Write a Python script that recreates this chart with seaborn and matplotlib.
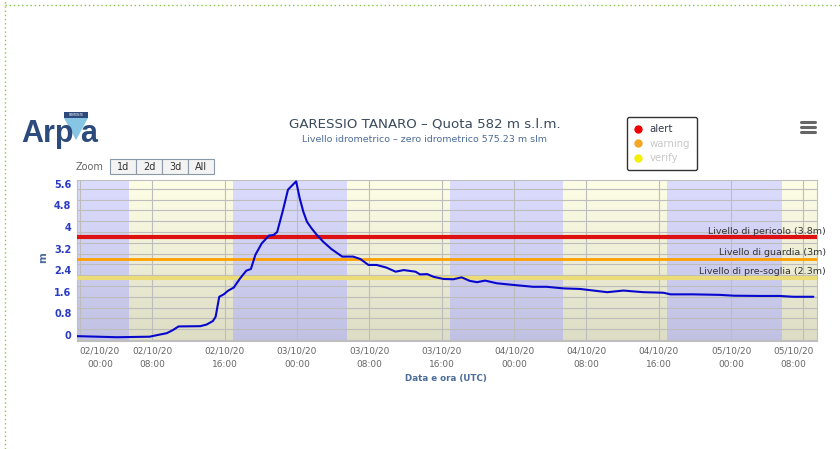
import numpy as np
import pandas as pd
import matplotlib
matplotlib.use('Agg')
import matplotlib.pyplot as plt
import matplotlib.dates as mdates
from matplotlib.lines import Line2D
from matplotlib.patches import Polygon, Rectangle
from matplotlib.colors import LinearSegmentedColormap
from matplotlib.transforms import ScaledTranslation, blended_transform_factory
import seaborn as sns

# Water level: hours after 02/10/20 00:00 UTC, level in m
hours = [-0.3, 1.9, 4.1, 7.7, 8.7, 9.6, 10.3, 10.9, 13.3, 14.0, 14.7, 15.0, 15.4, 15.9,
         16.4, 17.0, 17.7, 18.4, 18.9, 19.4, 20.1, 20.9, 21.4, 21.8, 22.4, 23.0, 23.9,
         24.3, 24.7, 25.1, 25.6, 26.2, 26.9, 27.8, 29.0, 30.2, 31.0, 31.9, 32.8, 33.9,
         34.9, 35.8, 37.1, 37.6, 38.4, 39.1, 40.2, 41.3, 42.2, 43.1, 43.9, 44.8, 46.1,
         47.9, 50.1, 51.6, 53.5, 55.3, 56.8, 58.3, 60.1, 62.3, 64.5, 65.3, 67.8, 70.8,
         72.3, 75.2, 77.4, 78.9, 81.1]
level = [0.14, 0.12, 0.10, 0.12, 0.19, 0.25, 0.37, 0.50, 0.51, 0.57, 0.70, 0.86, 1.60, 1.69,
         1.83, 1.94, 2.28, 2.57, 2.63, 3.16, 3.58, 3.87, 3.89, 4.00, 4.75, 5.57, 5.88,
         5.25, 4.75, 4.38, 4.14, 3.89, 3.64, 3.37, 3.09, 3.09, 3.00, 2.78, 2.78, 2.68,
         2.53, 2.59, 2.53, 2.43, 2.44, 2.34, 2.26, 2.25, 2.32, 2.19, 2.14, 2.20, 2.10,
         2.04, 1.97, 1.97, 1.91, 1.89, 1.83, 1.77, 1.83, 1.77, 1.75, 1.69, 1.69, 1.67,
         1.64, 1.63, 1.63, 1.60, 1.60]

threshold_values = [3.8, 3.0, 2.3]
threshold_labels = ['Livello di pericolo (3.8m)', 'Livello di guardia (3m)',
                    'Livello di pre-soglia (2.3m)']
threshold_colors = ['#dd1111', '#ffa000', '#ecdc78']

# night (blue) and day (yellow) bands, hours after 02/10/20 00:00
night_bands = [(-0.4, 5.4), (16.9, 29.5), (40.9, 53.4), (64.9, 77.6)]
day_bands = [(5.4, 16.9), (29.5, 40.9), (53.4, 64.9), (77.6, 82.0)]

tick_hours = [0, 8, 16, 24, 32, 40, 48, 56, 64, 72, 80]
y_ticks = [0, 0.8, 1.6, 2.4, 3.2, 4, 4.8, 5.6]
y_tick_labels = ['0', '0.8', '1.6', '2.4', '3.2', '4', '4.8', '5.6']

legend_labels = ['alert', 'warning', 'verify']
legend_colors = ['#ee0000', '#f5a623', '#f4f000']
legend_text_colors = ['#333a4a', '#c8c8c8', '#c8c8c8']

zoom_buttons = ['1d', '2d', '3d', 'All']

W, H = 840, 449
base = pd.Timestamp('2020-10-02 00:00')


def fx(x):
    return x / W


def fy(y):
    return 1 - y / H


def main():
    sns.set_style('white')
    plt.rcParams['font.family'] = ['DejaVu Sans']

    df = pd.DataFrame({'time': base + pd.to_timedelta(hours, unit='h'), 'level': level})

    fig = plt.figure(figsize=(W / 100, H / 100), dpi=100)
    rect = [fx(77), fy(341), fx(817) - fx(77), fy(180) - fy(341)]

    # gradient background of the plot area
    bg = fig.add_axes(rect, zorder=-1)
    cmap = LinearSegmentedColormap.from_list('bg', ['#ffffff', '#d2d2d2'])
    bg.imshow(np.linspace(0, 1, 256).reshape(-1, 1), cmap=cmap, aspect='auto',
              extent=[0, 1, 0, 1], origin='upper')
    bg.axis('off')

    ax = fig.add_axes(rect)
    ax.patch.set_visible(False)

    to_t = lambda h: base + pd.Timedelta(hours=h)
    for a, b in night_bands:
        ax.axvspan(to_t(a), to_t(b), color='#a8a8ff', alpha=0.40, lw=0, zorder=0.2)
    for a, b in day_bands:
        ax.axvspan(to_t(a), to_t(b), color='#ffffa0', alpha=0.25, lw=0, zorder=0.2)

    sns.lineplot(data=df, x='time', y='level', ax=ax, color='#0808cc', lw=1.5, zorder=4)

    trans = blended_transform_factory(ax.transAxes, ax.transData)
    for v, lab, c, lw in zip(threshold_values, threshold_labels, threshold_colors, [3, 2, 3]):
        ax.axhline(v, color=c, lw=lw, zorder=3)
        ax.text(1.012, v + 0.06, lab, transform=trans, ha='right', va='bottom',
                fontsize=6.8, color='#333333', clip_on=False, zorder=5)

    ax.set_xlim(to_t(-0.33), to_t(81.5))
    ax.set_ylim(-0.04, 5.93)

    ax.set_xticks([to_t(h) for h in tick_hours])
    ax.xaxis.set_major_formatter(mdates.DateFormatter('%d/%m/%y\n%H:%M'))
    ax.set_yticks(y_ticks)
    ax.set_yticklabels(y_tick_labels)
    ax.set_yticks(np.arange(0.4, 5.9, 0.8), minor=True)
    ax.grid(True, which='both', color='#bdbdbd', lw=0.8, zorder=1)
    ax.set_axisbelow(True)

    ax.tick_params(axis='x', length=0, pad=4, labelsize=6.5, labelcolor='#666666')
    ax.tick_params(axis='y', which='both', length=0, pad=4)
    for lab in ax.get_yticklabels():
        lab.set_fontsize(7)
        lab.set_fontweight('bold')
        lab.set_color('#2b3cc4')
        lab.set_transform(lab.get_transform() + ScaledTranslation(0, 0.05, fig.dpi_scale_trans))
    xl = ax.get_xticklabels()
    xl[0].set_transform(xl[0].get_transform() + ScaledTranslation(0.2, 0, fig.dpi_scale_trans))
    xl[-1].set_transform(xl[-1].get_transform() + ScaledTranslation(-0.1, 0, fig.dpi_scale_trans))
    for lab in xl:
        lab.set_linespacing(1.6)

    for s in ax.spines.values():
        s.set_color('#c0c0c0')
        s.set_linewidth(0.8)

    ax.set_xlabel('')
    ax.set_ylabel('')
    fig.text(fx(446), fy(378), 'Data e ora (UTC)', ha='center', va='center',
             fontsize=6.3, fontweight='bold', color='#4d6d9a')
    fig.text(fx(43), fy(258), 'm', ha='center', va='center', rotation=90,
             fontsize=7.5, fontweight='bold', color='#4d6d9a')

    # titles
    fig.text(fx(425), fy(124), 'GARESSIO TANARO \u2013 Quota 582 m s.l.m.', ha='center',
             va='center', fontsize=9.6, color='#3a4a5c')
    fig.text(fx(425), fy(139), 'Livello idrometrico \u2013 zero idrometrico 575.23 m slm',
             ha='center', va='center', fontsize=6.8, color='#4d6d9a')

    # legend
    handles = [Line2D([], [], marker='o', ls='', color=c, markersize=5) for c in legend_colors]
    leg = fig.legend(handles, legend_labels, loc='upper left', bbox_to_anchor=(fx(627), fy(117)),
                     fontsize=7.3, frameon=True, fancybox=True, edgecolor='#333333',
                     facecolor='white', framealpha=1, handlelength=0.8, handletextpad=0.7,
                     borderpad=0.7, labelspacing=0.45, borderaxespad=0)
    leg.get_frame().set_linewidth(1.0)
    for t, c in zip(leg.get_texts(), legend_text_colors):
        t.set_color(c)

    # menu icon
    for y in [121.7, 126.7, 131.7]:
        fig.add_artist(Line2D([fx(801), fx(815)], [fy(y), fy(y)], color='#666666', lw=2.2))

    # zoom buttons
    fig.text(fx(76), fy(167), 'Zoom', ha='left', va='center', fontsize=7, color='#666666')
    edges = [110, 136, 162, 188, 214]
    for i, lab in enumerate(zoom_buttons):
        x0, x1 = edges[i], edges[i + 1]
        fig.add_artist(Rectangle((fx(x0), fy(174)), fx(x1) - fx(x0), fy(159) - fy(174),
                                 transform=fig.transFigure, facecolor='#f3f3f3',
                                 edgecolor='#8a99aa', lw=0.8))
        fig.text(fx((x0 + x1) / 2), fy(166.5), lab, ha='center', va='center',
                 fontsize=7, color='#333333')

    # logo
    fig.add_artist(Polygon([[fx(64), fy(118)], [fx(88), fy(118)], [fx(76), fy(140)]],
                           closed=True, transform=fig.transFigure, facecolor='#86c5e4',
                           edgecolor='none'))
    fig.add_artist(Rectangle((fx(64), fy(117.5)), fx(88) - fx(64), fy(112) - fy(117.5),
                             transform=fig.transFigure, facecolor='#2c4a7c', edgecolor='none'))
    fig.text(fx(76), fy(114.8), 'PIEMONTE', ha='center', va='center', fontsize=2.2,
             color='white')
    fig.text(fx(21), fy(142), 'Arp', ha='left', va='baseline', fontsize=22,
             fontweight='bold', color='#2c4a7c', family=['Liberation Sans'])
    fig.text(fx(80), fy(142), 'a', ha='left', va='baseline', fontsize=22,
             fontweight='bold', color='#2c4a7c', family=['Liberation Sans'])

    # dotted page border
    fig.add_artist(Line2D([fx(4.5), fx(4.5)], [0, 1], color='#8cc63f', lw=1, ls=(0, (1, 2))))
    fig.add_artist(Line2D([fx(4.5), 1], [fy(4.5), fy(4.5)], color='#8cc63f', lw=1,
                          ls=(0, (1, 2))))

    fig.savefig('out.png', dpi=100)
    plt.close(fig)


if __name__ == '__main__':
    main()
